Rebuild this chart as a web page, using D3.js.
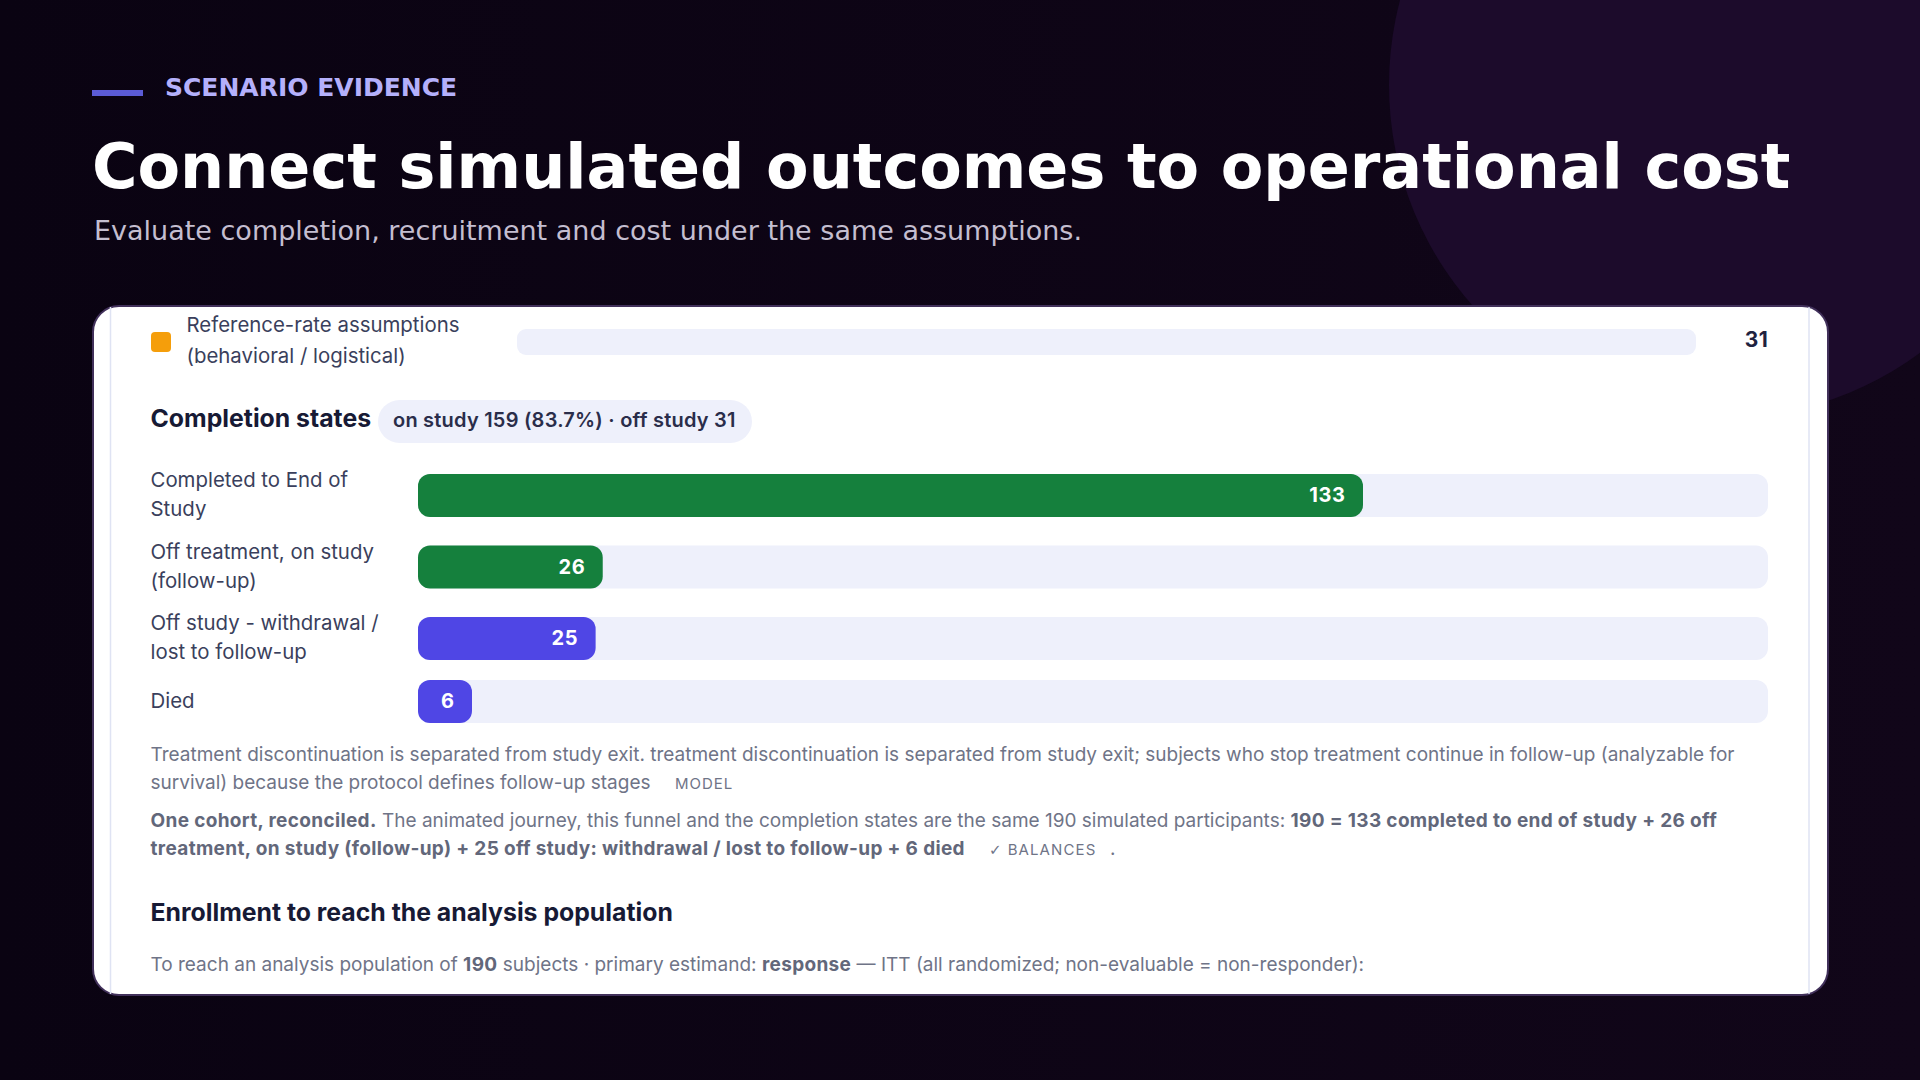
<!DOCTYPE html>
<html>
<head>
<meta charset="utf-8">
<title>Scenario evidence</title>
<script src="https://cdn.jsdelivr.net/npm/d3@7"></script>
<style>
  html, body { margin: 0; padding: 0; background: #0d0416; overflow: hidden; }
  svg { display: block; }
  text { font-family: Inter, sans-serif; }
  .head { font-family: "DejaVu Sans", sans-serif; }
</style>
</head>
<body>
<svg id="chart" width="1920" height="1080"></svg>
<script>
// chart data
const stateLabels = [
  ['Completed to End of', 'Study'],
  ['Off treatment, on study', '(follow-up)'],
  ['Off study - withdrawal /', 'lost to follow-up'],
  ['Died']
];
const stateValues = [133, 26, 25, 6];
const stateGroups = ['on study', 'on study', 'off study', 'off study'];
const cohortTotal = 190;

const assumptionLabel = ['Reference-rate assumptions', '(behavioral / logistical)'];
const assumptionValue = 31;

const completionPill = 'on study 159 (83.7%) · off study 31';

// each note line is a list of [text, bold] runs
const modelNote = [
  [['Treatment discontinuation is separated from study exit. treatment discontinuation is separated from study exit; subjects who stop treatment continue in follow-up (analyzable for', false]],
  [['survival) because the protocol defines follow-up stages', false]]
];
const cohortNote = [
  [['One cohort, reconciled.', true], [' The animated journey, this funnel and the completion states are the same 190 simulated participants: ', false], ['190 = 133 completed to end of study + 26 off', true]],
  [['treatment, on study (follow-up) + 25 off study: withdrawal / lost to follow-up + 6 died', true]]
];
const enrollNote = [['To reach an analysis population of ', false], ['190', true], [' subjects · primary estimand: ', false], ['response', true], [' — ITT (all randomized; non-evaluable = non-responder):', false]];

const svg = d3.select('#chart');

// BACKGROUND
const bgGrad = svg.append('defs').append('linearGradient').attr('id', 'bg');
bgGrad.append('stop').attr('offset', '0%').attr('stop-color', '#0a0312');
bgGrad.append('stop').attr('offset', '100%').attr('stop-color', '#110619');
svg.append('rect').attr('width', 1920).attr('height', 1080).attr('fill', 'url(#bg)');
svg.append('circle').attr('cx', 1722).attr('cy', 85).attr('r', 333).attr('fill', '#1c0b2b');

// HEADER
svg.append('rect').attr('x', 92).attr('y', 90).attr('width', 51).attr('height', 6).attr('fill', '#5b5bd6');
svg.append('text').attr('class', 'head').attr('x', 165).attr('y', 96)
  .attr('font-size', 25).attr('font-weight', 700).attr('fill', '#b4b0fb')
  .text('SCENARIO EVIDENCE');
svg.append('text').attr('class', 'head').attr('x', 92).attr('y', 188)
  .attr('font-size', 62).attr('font-weight', 700).attr('fill', '#ffffff')
  .text('Connect simulated outcomes to operational cost');
svg.append('text').attr('class', 'head').attr('x', 94).attr('y', 240)
  .attr('font-size', 27).attr('fill', '#c4bed0')
  .text('Evaluate completion, recruitment and cost under the same assumptions.');

// CARD
svg.append('rect').attr('x', 93).attr('y', 306).attr('width', 1735).attr('height', 689).attr('rx', 26)
  .attr('fill', '#ffffff').attr('stroke', '#41305a').attr('stroke-width', 2);
svg.selectAll('.panel-edge').data([110.5, 1809]).join('line').attr('class', 'panel-edge')
  .attr('x1', d => d).attr('x2', d => d).attr('y1', 307).attr('y2', 994)
  .attr('stroke', '#dfe3f3').attr('stroke-width', 1.5);

// draw a line of mixed regular / bold runs
function drawRuns(x, y, runs, size, fill, boldFill) {
  const t = svg.append('text').attr('x', x).attr('y', y).attr('font-size', size).attr('fill', fill);
  t.selectAll('tspan').data(runs).join('tspan')
    .attr('font-weight', d => d[1] ? 700 : 400)
    .attr('letter-spacing', d => d[1] ? 0.34 : 0)
    .attr('fill', d => d[1] ? boldFill : fill)
    .attr('xml:space', 'preserve')
    .text(d => d[0]);
  return t;
}

// ASSUMPTION ROW (cut off by the card top)
svg.append('rect').attr('x', 151).attr('y', 332).attr('width', 20).attr('height', 20).attr('rx', 4).attr('fill', '#f59e0b');
svg.selectAll('.assumption-label').data(assumptionLabel).join('text').attr('class', 'assumption-label')
  .attr('x', 186.5).attr('y', (d, i) => 332 + i * 31)
  .attr('font-size', 20.4).attr('fill', '#3a3f5c').text(d => d);
svg.append('rect').attr('x', 517).attr('y', 329).attr('width', 1179).attr('height', 26).attr('rx', 9).attr('fill', '#eef0fb');
svg.append('text').attr('x', 1768).attr('y', 347).attr('text-anchor', 'end')
  .attr('font-size', 21).attr('font-weight', 700).attr('letter-spacing', 0.3).attr('fill', '#1f2240').text(assumptionValue);

// COMPLETION STATES
svg.append('text').attr('x', 150.5).attr('y', 427).attr('font-size', 24.8).attr('font-weight', 700).attr('fill', '#171a35')
  .text('Completion states');
svg.append('rect').attr('x', 378).attr('y', 400).attr('width', 374).attr('height', 43).attr('rx', 21.5).attr('fill', '#eef0fb');
svg.append('text').attr('x', 393).attr('y', 427).attr('font-size', 20).attr('font-weight', 600).attr('letter-spacing', 0.22).attr('fill', '#2a2d4a')
  .text(completionPill);

// row tops flow like the page did: two line labels make a taller row
const barH = 43, lineH = 29, rowLine = 30, rowGap = 11.5;
let rowTop = 465.5;
const rowCenter = stateLabels.map(lines => {
  const h = Math.max(barH, lines.length * rowLine);
  const c = rowTop + h / 2;
  rowTop += h + rowGap;
  return c;
});

const x = d3.scaleLinear().domain([0, cohortTotal]).range([418, 1768]);
const color = d3.scaleOrdinal().domain(['on study', 'off study']).range(['#15803d', '#4f46e5']);
const minBar = 54;
const barEnd = v => x(0) + Math.max(minBar, x(v) - x(0));

const rows = svg.selectAll('.state-row').data(stateValues).join('g').attr('class', 'state-row')
  .attr('transform', (d, i) => `translate(0,${rowCenter[i]})`);

rows.append('rect').attr('x', x(0)).attr('y', -barH / 2).attr('width', x.range()[1] - x(0)).attr('height', barH)
  .attr('rx', 12).attr('fill', '#eef0fb');
rows.append('rect').attr('x', x(0)).attr('y', -barH / 2).attr('width', d => barEnd(d) - x(0)).attr('height', barH)
  .attr('rx', 12).attr('fill', (d, i) => color(stateGroups[i]));
rows.append('text').attr('x', d => barEnd(d) - 17.5).attr('y', 6.5).attr('text-anchor', 'end')
  .attr('font-size', 20).attr('font-weight', 700).attr('letter-spacing', 0.6).attr('fill', '#ffffff').text(d => d);
rows.each(function(d, i) {
  const lines = stateLabels[i];
  d3.select(this).selectAll('.state-label').data(lines).join('text').attr('class', 'state-label')
    .attr('x', 150.5).attr('y', (l, j) => 6 + (j - (lines.length - 1) / 2) * lineH)
    .attr('font-size', 20.4).attr('fill', '#3a3f5c').text(l => l);
});

// NOTES
const noteFill = '#6f7487', noteBold = '#62677a', noteSize = 19;
drawRuns(150.5, 760.5, modelNote[0], noteSize, noteFill, noteBold);
drawRuns(150.5, 789, modelNote[1], noteSize, noteFill, noteBold);
svg.append('text').attr('x', 675).attr('y', 789).attr('font-size', 15).attr('letter-spacing', 1).attr('fill', noteFill).text('MODEL');
drawRuns(150.5, 827, cohortNote[0], noteSize, noteFill, noteBold);
drawRuns(150.5, 855, cohortNote[1], noteSize, noteFill, noteBold);
const balances = svg.append('text').attr('x', 989).attr('y', 855).attr('font-size', 15).attr('letter-spacing', 1.1).attr('fill', noteFill);
balances.append('tspan').attr('font-family', '"DejaVu Sans", sans-serif').text('✓');
balances.append('tspan').attr('dx', 5).text('BALANCES');
svg.append('text').attr('x', 1110).attr('y', 855).attr('font-size', noteSize).attr('fill', noteFill).text('.');

svg.append('text').attr('x', 150.5).attr('y', 920.5).attr('font-size', 24.8).attr('font-weight', 700).attr('fill', '#171a35')
  .text('Enrollment to reach the analysis population');
drawRuns(150.5, 970.5, enrollNote, noteSize, noteFill, noteBold);
</script>
</body>
</html>
